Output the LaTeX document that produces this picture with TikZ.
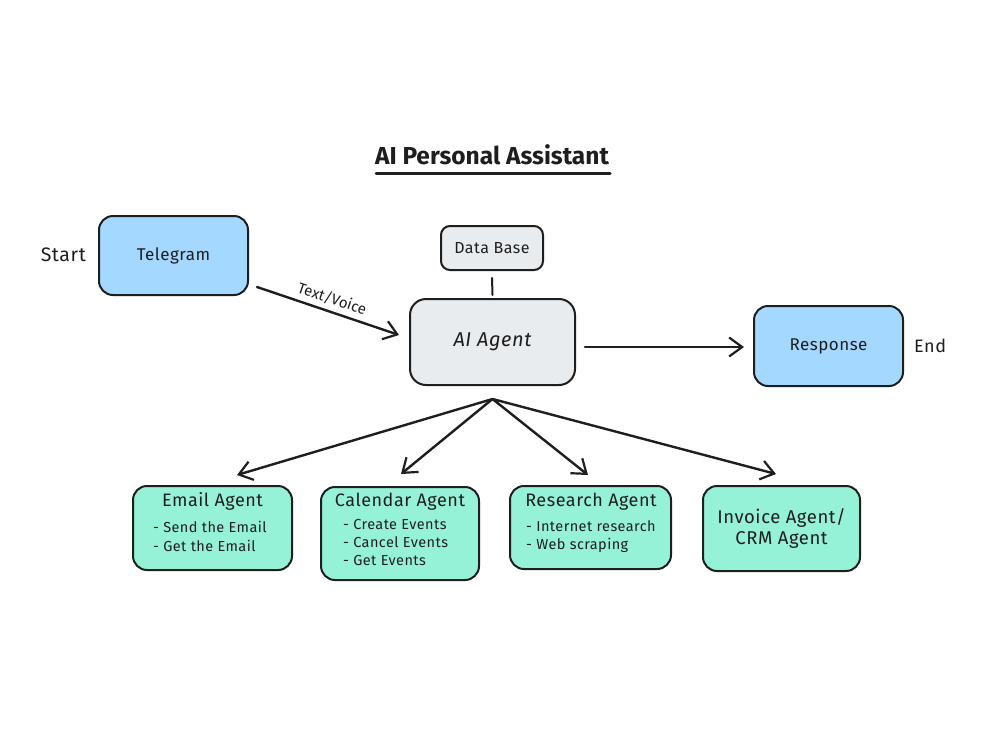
\documentclass[tikz,border=0pt]{standalone}
\usepackage{fontspec}
\setmainfont{Fira Sans}[LetterSpace=3]
\newfontfamily\titlefont{Fira Sans}
\usetikzlibrary{arrows.meta,calc}
\definecolor{ink}{HTML}{1E1E1E}
\definecolor{blu}{HTML}{A5D8FF}
\definecolor{gry}{HTML}{E9ECEF}
\definecolor{teal}{HTML}{96F2D7}
\tikzset{
  box/.style={draw=ink, line width=2pt, rounded corners=14pt, inner sep=0pt},
  bluebox/.style={box, fill=blu},
  graybox/.style={box, fill=gry},
  agentbox/.style={box, fill=teal},
  lbl/.style={text=ink, font=\fontsize{17}{20}\selectfont, inner sep=0pt},
  agenttitle/.style={lbl, font=\fontsize{18}{21}\selectfont},
  item/.style={text=ink, font=\fontsize{14.5}{18}\selectfont, inner sep=0pt, anchor=west},
  conn/.style={draw=ink, line width=2.4pt, line cap=round, line join=round},
  arr/.style={conn, -{Straight Barb[length=13pt,width=19pt,line width=2.2pt]}},
}
\begin{document}
\begin{tikzpicture}[x=1pt,y=-1pt]
\useasboundingbox (0,0) rectangle (1000,750);
\fill[white] (0,0) rectangle (1000,750);

% title
\node[text=ink, font=\titlefont\fontsize{24.5}{28}\selectfont\bfseries, inner sep=0pt] (title) at (492,155) {AI Personal Assistant};
\draw[ink, line width=3pt, line cap=round] ($(title.center)+(-116,18)$) coordinate (ul1) -- ($(title.center)+(118,18)$) coordinate (ul2);

% top row
\node[bluebox, minimum width=149, minimum height=79] (telegram) at (173.5,255.5) {};
\node[lbl] (telegramT) at (telegram.center) {Telegram};
\node[lbl, anchor=east, font=\fontsize{19.5}{22}\selectfont] (start) at (86,255) {Start};

\node[graybox, rounded corners=9pt, minimum width=102, minimum height=44] (db) at (492,248) {};
\node[lbl, font=\fontsize{16}{19}\selectfont] (dbT) at (db.center) {Data Base};

\node[graybox, rounded corners=16pt, minimum width=165, minimum height=86] (agent) at (492.5,342) {};
\node[lbl, font=\fontsize{20}{23}\selectfont\itshape] (agentT) at (agent.center) {AI Agent};

\node[bluebox, minimum width=149, minimum height=80] (response) at (828.5,346) {};
\node[lbl] (responseT) at (response.center) {Response};
\node[lbl, anchor=west, font=\fontsize{18}{21}\selectfont] (endT) at (914,346) {End};

% bottom row
\node[agentbox, minimum width=159, minimum height=84] (email) at (212.5,528) {};
\node[agenttitle] (emailT) at (212.5,501) {Email Agent};
\node[item] (email1) at (153,527) {- Send the Email};
\node[item] (email2) at (153,546) {- Get the Email};

\node[agentbox, minimum width=158, minimum height=93] (calendar) at (400,533.5) {};
\node[agenttitle] (calendarT) at (400,502) {Calendar Agent};
\node[item] (cal1) at (343,524) {- Create Events};
\node[item] (cal2) at (343,542) {- Cancel Events};
\node[item] (cal3) at (343,560) {- Get Events};

\node[agentbox, minimum width=161, minimum height=83] (research) at (590.5,527.5) {};
\node[agenttitle] (researchT) at (591,502) {Research Agent};
\node[item] (res1) at (526,526) {- Internet research};
\node[item] (res2) at (526,545) {- Web scraping};

\node[agentbox, minimum width=157, minimum height=85] (invoice) at (781.5,528.5) {};
\node[agenttitle, align=center, font=\fontsize{18.5}{21}\selectfont] (invoiceT) at (781.5,528.5) {Invoice Agent/\\CRM Agent};

% connectors
\draw[conn, line width=2pt] ($(db.south)+(0,7)$) -- ($(agent.north)+(0,-3)$);
\draw[arr] ($(telegram.south east)+(8,-9)$) -- node[lbl, sloped, above=5pt, font=\titlefont\fontsize{15}{17}\selectfont] (tv) {Text/Voice} ($(agent.west)+(-10,-7)$);
\draw[arr] ($(agent.east)+(9,5)$) -- ($(response.west)+(-9,1)$);
\coordinate (hub) at ($(agent.south)+(0,13)$);
\draw[arr] (hub) -- ($(email.north)+(24.5,-10)$);
\draw[arr] (hub) -- ($(calendar.north)+(1,-12)$);
\draw[arr] (hub) -- ($(research.north)+(-2.5,-10)$);
\draw[arr] (hub) -- ($(invoice.north)+(-5.5,-11)$);
\end{tikzpicture}
\end{document}
